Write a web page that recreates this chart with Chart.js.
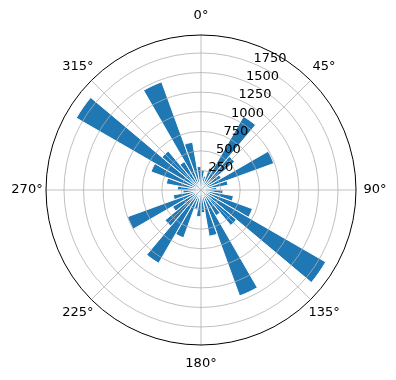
<!DOCTYPE html>
<html lang="en">
<head>
  <meta charset="UTF-8" />
  <title>Rose chart</title>
  <script src="https://cdn.jsdelivr.net/npm/chart.js"></script>
  <style>
    body {
      margin: 0;
      background: #ffffff;
    }
  </style>
</head>
<body>
  <canvas id="roseChart" width="396" height="380"></canvas>

  <script>
  // 36 bins of 10 degrees, clockwise from north
  const binLabels = [
    '0-10', '10-20', '20-30', '30-40', '40-50', '50-60', '60-70', '70-80', '80-90',
    '90-100', '100-110', '110-120', '120-130', '130-140', '140-150', '150-160', '160-170', '170-180',
    '180-190', '190-200', '200-210', '210-220', '220-230', '230-240', '240-250', '250-260', '260-270',
    '270-280', '280-290', '290-300', '300-310', '310-320', '320-330', '330-340', '340-350', '350-360'
  ];
  const counts = [
    250, 180, 300, 1085, 560, 300, 990, 350, 200,
    280, 420, 700, 1840, 590, 380, 1440, 600, 290,
    340, 250, 650, 1080, 600, 420, 1000, 360, 230,
    300, 450, 680, 1840, 650, 420, 1470, 620, 300
  ];
  const angleTickLabels = ['0°', '45°', '90°', '135°', '180°', '225°', '270°', '315°'];
  const radialTicks = [250, 500, 750, 1000, 1250, 1500, 1750];
  const rMax = 1980;

  // grid lines (on top of the bars), spine and labels the matplotlib way
  const polarDecor = {
    id: 'polarDecor',
    afterDatasetsDraw(chart) {
      const r = chart.scales.r;
      const c = chart.ctx;
      const cx = r.xCenter, cy = r.yCenter, R = r.drawingArea;
      c.save();
      c.strokeStyle = '#b0b0b0';
      c.lineWidth = 0.8;
      radialTicks.forEach(v => {
        c.beginPath();
        c.arc(cx, cy, r.getDistanceFromCenterForValue(v), 0, Math.PI * 2);
        c.stroke();
      });
      angleTickLabels.forEach((lab, i) => {
        const a = i * Math.PI / 4;
        c.beginPath();
        c.moveTo(cx, cy);
        c.lineTo(cx + R * Math.sin(a), cy - R * Math.cos(a));
        c.stroke();
      });
      c.strokeStyle = '#000000';
      c.lineWidth = 1;
      c.beginPath();
      c.arc(cx, cy, R, 0, Math.PI * 2);
      c.stroke();

      c.fillStyle = '#000000';
      c.font = '13px "DejaVu Sans"';
      c.textAlign = 'center';
      c.textBaseline = 'middle';
      angleTickLabels.forEach((lab, i) => {
        const a = i * Math.PI / 4;
        const d = R + 19;
        c.fillText(lab, cx + d * Math.sin(a), cy - d * Math.cos(a));
      });

      c.textAlign = 'left';
      c.textBaseline = 'bottom';
      const la = 22.5 * Math.PI / 180;
      radialTicks.forEach(v => {
        const d = r.getDistanceFromCenterForValue(v);
        c.fillText(String(v), cx + d * Math.sin(la), cy - d * Math.cos(la) + 2);
      });
      c.restore();
    }
  };

  new Chart(document.getElementById('roseChart'), {
    type: 'polarArea',
    data: {
      labels: binLabels,
      datasets: [{
        data: counts,
        backgroundColor: '#1f77b4',
        borderColor: '#ffffff',
        borderWidth: 1
      }]
    },
    options: {
      responsive: false,
      animation: false,
      layout: { padding: { left: 46, right: 40, top: 35, bottom: 35 } },
      plugins: {
        legend: { display: false },
        tooltip: { enabled: false }
      },
      scales: {
        r: {
          min: 0,
          max: rMax,
          ticks: { display: false, stepSize: 250 },
          grid: { display: false },
          angleLines: { display: false },
          pointLabels: { display: false }
        }
      }
    },
    plugins: [polarDecor]
  });
  </script>
</body>
</html>
